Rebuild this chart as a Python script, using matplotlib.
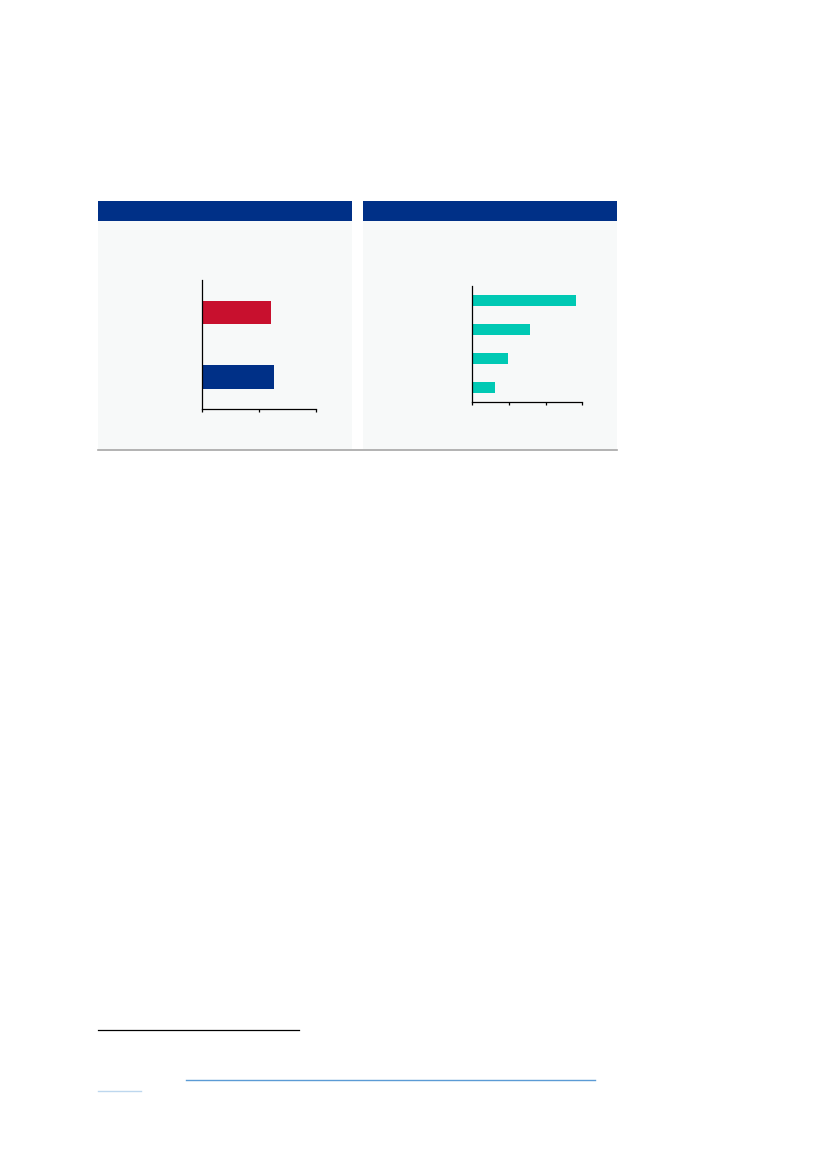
import matplotlib
matplotlib.use("Agg")
import matplotlib.pyplot as plt
from matplotlib.patches import Rectangle
from matplotlib.lines import Line2D

# ---- data ----
left_categories = ["B", "A"]
left_values = [63, 61]
left_colors = ["#003087", "#C8102E"]
left_xticks = [0, 50, 100]

right_categories = ["D", "C", "B", "A"]
right_values = [0.62, 0.96, 1.57, 2.83]
right_xticks = [0, 1, 2, 3]

W, H = 827, 1169
fig = plt.figure(figsize=(W / 100, H / 100), dpi=100)
fig.patch.set_facecolor("white")


def rect_px(x0, y0, x1, y1, color, z=-10):
    fig.patches.append(Rectangle((x0 / W, 1 - y1 / H), (x1 - x0) / W, (y1 - y0) / H,
                                 transform=fig.transFigure, facecolor=color,
                                 edgecolor="none", zorder=z))


def line_px(x0, x1, y, color, lw):
    fig.lines.append(Line2D([x0 / W, x1 / W], [1 - y / H, 1 - y / H],
                            transform=fig.transFigure, color=color, lw=lw, zorder=-5))


def axes_px(x0, y0, x1, y1):
    ax = fig.add_axes([x0 / W, 1 - y1 / H, (x1 - x0) / W, (y1 - y0) / H])
    ax.set_zorder(5)
    return ax


# panels
rect_px(98, 221, 352.3, 449.5, "#F7F9F9")
rect_px(363.3, 221, 617.3, 449.5, "#F7F9F9")
rect_px(98, 200.7, 352.3, 220.7, "#003087")
rect_px(363.3, 200.7, 617.3, 220.7, "#003087")
line_px(98, 617.3, 450.3, "#A6A6A6", 1.2)

# footnote rule and link underlines
line_px(98, 298.7, 1030.3, "black", 0.9)
line_px(186, 595, 1080.3, "#5B9BD5", 1.0)
line_px(98, 141, 1091.3, "#BDD7EE", 1.0)


def style(ax, xticks):
    ax.set_facecolor("none")
    ax.patch.set_alpha(0)
    for s in ["top", "right"]:
        ax.spines[s].set_visible(False)
    for s in ["left", "bottom"]:
        ax.spines[s].set_linewidth(0.9)
        ax.spines[s].set_color("black")
    ax.set_xticks(xticks)
    ax.set_xticklabels([])
    ax.set_yticks([])
    ax.tick_params(axis="x", length=2.5, width=0.9, direction="out")


# left chart
axl = axes_px(202.3, 280, 315.7, 409.3)
axl.barh(range(len(left_categories)), left_values, height=0.365, color=left_colors)
axl.set_xlim(0, 100)
axl.set_ylim(-0.5, 1.5)
style(axl, left_xticks)

# right chart
axr = axes_px(472.3, 286, 582.3, 402)
axr.barh(range(len(right_categories)), right_values, height=0.36, color="#00C9B4")
axr.set_xlim(0, 3)
axr.set_ylim(-0.5, 3.5)
style(axr, right_xticks)

fig.savefig("out.png", dpi=100, facecolor="white")
